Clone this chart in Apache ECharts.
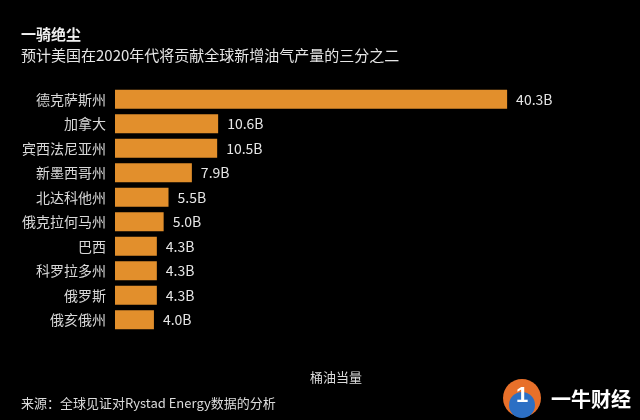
<!DOCTYPE html>
<html><head><meta charset="utf-8">
<script src="https://cdn.jsdelivr.net/npm/echarts@6/dist/echarts.min.js"></script>
<style>html,body{margin:0;padding:0;background:#000;}#c{width:640px;height:420px;}</style>
</head><body><div id="c"></div>
<script>
const categories = ['德克萨斯州','加拿大','宾西法尼亚州','新墨西哥州','北达科他州','俄克拉何马州','巴西','科罗拉多州','俄罗斯','俄亥俄州'];
const values = [40.3,10.6,10.5,7.9,5.5,5.0,4.3,4.3,4.3,4.0];
const titleText = '一骑绝尘';
const subtitleText = '预计美国在2020年代将贡献全球新增油气产量的三分之二';
const axisName = '桶油当量';
const sourceText = '来源：全球见证对Rystad Energy数据的分析';
const font = '"Noto Sans CJK SC","Noto Sans",sans-serif';
const chart = echarts.init(document.getElementById('c'));
chart.setOption({
  backgroundColor:'#000',
  animation:false,
  title:[
    {text:titleText,left:16,top:22,textStyle:{color:'#f0f0f0',fontSize:15,fontWeight:'bold',fontFamily:font}},
    {text:subtitleText,left:16,top:43,textStyle:{color:'#e6e6e6',fontSize:15,fontWeight:'normal',fontFamily:font}},
    {text:axisName,left:305,top:366,textStyle:{color:'#dcdcdc',fontSize:13,fontWeight:'normal',fontFamily:font}},
    {text:sourceText,left:16,top:392,textStyle:{color:'#dcdcdc',fontSize:13,fontWeight:'normal',fontFamily:font}},
    {text:'一牛财经',left:546,top:384,textStyle:{color:'#ffffff',fontSize:20,fontWeight:'bold',fontFamily:font}}
  ],
  graphic:[
    {type:'circle',shape:{cx:522,cy:398,r:19},style:{fill:'#e8702a'}},
    {type:'circle',shape:{cx:522,cy:405,r:13},style:{fill:'#2c6fc4'}},
    {type:'text',style:{x:516,y:385,text:'1',fill:'#fff',font:'bold 22px sans-serif'}}
  ],
  grid:{left:115,top:87,width:486.5,height:245},
  xAxis:{type:'value',min:0,max:50,show:false},
  yAxis:{type:'category',data:categories,inverse:true,
    axisLine:{show:false},axisTick:{show:false},
    axisLabel:{color:'#d8d8d8',fontSize:14,margin:9,fontFamily:font}},
  series:[{type:'bar',data:values,barCategoryGap:'23%',
    itemStyle:{color:'#e28f2c'},
    label:{show:true,position:'right',distance:9,color:'#e6e6e6',fontSize:14,fontFamily:font,
      formatter:p=>p.value.toFixed(1)+'B'}}]
});
</script></body></html>
